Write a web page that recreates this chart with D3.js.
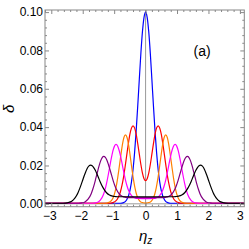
<!DOCTYPE html>
<html>
<head>
<meta charset="utf-8">
<script src="https://cdn.jsdelivr.net/npm/d3@7"></script>
<style>
  body { margin: 0; background: #fff; }
  svg { display: block; font-family: "Liberation Sans", Arial, sans-serif; }
</style>
</head>
<body>
<svg id="chart" width="249" height="249"></svg>
<script>
// tick values
const etaTicks = [-3, -2, -1, 0, 1, 2, 3];
const deltaTicks = [0, 0.02, 0.04, 0.06, 0.08, 0.10];

// curves, [eta_z, delta]
const blueCurve = [[-3.2,0.0003],[-0.8,0.0003],[-0.7,0.0006],[-0.6,0.0021],[-0.5,0.0068],[-0.45,0.0113],[-0.4,0.0178],[-0.35,0.0267],[-0.3,0.038],[-0.25,0.051],[-0.2,0.065],[-0.15,0.0785],[-0.1,0.0898],[-0.05,0.0973],[0,0.1],
  [0.05,0.0973],[0.1,0.0898],[0.15,0.0785],[0.2,0.065],[0.25,0.051],[0.3,0.038],[0.35,0.0267],[0.4,0.0178],[0.45,0.0113],[0.5,0.0068],[0.6,0.0021],[0.7,0.0006],[0.8,0.0003],[3.2,0.0003]];

const redCurve = [[-3.2,0.0003],[-1.2,0.0003],[-1.1,0.0004],[-1.0,0.0009],[-0.9,0.0024],[-0.8,0.0063],[-0.75,0.0097],[-0.7,0.0141],[-0.65,0.0195],[-0.6,0.0254],[-0.55,0.0312],[-0.5,0.0362],[-0.45,0.0395],[-0.4,0.0407],[-0.35,0.0396],[-0.3,0.0363],[-0.25,0.0314],[-0.2,0.0259],[-0.15,0.0205],[-0.1,0.016],[-0.05,0.0131],[0,0.0121],
  [0.05,0.0131],[0.1,0.016],[0.15,0.0205],[0.2,0.0259],[0.25,0.0314],[0.3,0.0363],[0.35,0.0396],[0.4,0.0407],[0.45,0.0395],[0.5,0.0362],[0.55,0.0312],[0.6,0.0254],[0.65,0.0195],[0.7,0.0141],[0.75,0.0097],[0.8,0.0063],[0.9,0.0024],[1.0,0.0009],[1.1,0.0004],[1.2,0.0003],[3.2,0.0003]];

const orangeCurve = [[-3.2,0.0003],[-1.4,0.0003],[-1.24,0.0004],[-1.14,0.0009],[-1.04,0.0029],[-0.99,0.0052],[-0.94,0.0086],[-0.89,0.0133],[-0.84,0.019],[-0.79,0.025],[-0.74,0.0306],[-0.69,0.0346],[-0.64,0.036],[-0.59,0.0346],[-0.54,0.0306],[-0.49,0.025],[-0.44,0.0188],[-0.39,0.0131],[-0.34,0.0084],[-0.29,0.005],[-0.24,0.0028],[-0.19,0.0015],[-0.14,0.0008],[0,0.0004],
  [0.14,0.0008],[0.19,0.0015],[0.24,0.0028],[0.29,0.005],[0.34,0.0084],[0.39,0.0131],[0.44,0.0188],[0.49,0.025],[0.54,0.0306],[0.59,0.0346],[0.64,0.036],[0.69,0.0346],[0.74,0.0306],[0.79,0.025],[0.84,0.019],[0.89,0.0133],[0.94,0.0086],[0.99,0.0052],[1.04,0.0029],[1.14,0.0009],[1.24,0.0004],[1.4,0.0003],[3.2,0.0003]];

const magentaCurve = [[-3.2,0.0003],[-1.8,0.0003],[-1.64,0.0004],[-1.54,0.0007],[-1.44,0.0019],[-1.34,0.0049],[-1.29,0.0074],[-1.24,0.0108],[-1.19,0.0149],[-1.14,0.0194],[-1.09,0.0238],[-1.04,0.0276],[-0.99,0.0301],[-0.94,0.031],[-0.89,0.0302],[-0.84,0.0278],[-0.79,0.0244],[-0.74,0.0203],[-0.69,0.0162],[-0.64,0.0124],[-0.59,0.0093],[-0.54,0.0069],[-0.44,0.0041],[-0.34,0.0031],[-0.24,0.0028],[0,0.0027],
  [0.24,0.0028],[0.34,0.0031],[0.44,0.0041],[0.54,0.0069],[0.59,0.0093],[0.64,0.0124],[0.69,0.0162],[0.74,0.0203],[0.79,0.0244],[0.84,0.0278],[0.89,0.0302],[0.94,0.031],[0.99,0.0301],[1.04,0.0276],[1.09,0.0238],[1.14,0.0194],[1.19,0.0149],[1.24,0.0108],[1.29,0.0074],[1.34,0.0049],[1.44,0.0019],[1.54,0.0007],[1.64,0.0004],[1.8,0.0003],[3.2,0.0003]];

const purpleCurve = [[-3.2,0.0003],[-2.13,0.0003],[-2.03,0.0005],[-1.93,0.001],[-1.83,0.0024],[-1.73,0.0053],[-1.68,0.0076],[-1.63,0.0103],[-1.58,0.0135],[-1.53,0.0167],[-1.48,0.0198],[-1.43,0.0224],[-1.38,0.0241],[-1.33,0.0247],[-1.28,0.0242],[-1.23,0.0227],[-1.18,0.0204],[-1.13,0.0177],[-1.08,0.0148],[-1.03,0.012],[-0.98,0.0096],[-0.93,0.0076],[-0.83,0.005],[-0.73,0.0038],[-0.63,0.0034],[-0.53,0.0032],[0,0.0032],
  [0.53,0.0032],[0.63,0.0034],[0.73,0.0038],[0.83,0.005],[0.93,0.0076],[0.98,0.0096],[1.03,0.012],[1.08,0.0148],[1.13,0.0177],[1.18,0.0204],[1.23,0.0227],[1.28,0.0242],[1.33,0.0247],[1.38,0.0241],[1.43,0.0224],[1.48,0.0198],[1.53,0.0167],[1.58,0.0135],[1.63,0.0103],[1.68,0.0076],[1.73,0.0053],[1.83,0.0024],[1.93,0.001],[2.03,0.0005],[2.13,0.0003],[3.2,0.0003]];

const blackCurve = [[-3.2,0.0003],[-2.7,0.0003],[-2.55,0.0004],[-2.45,0.0007],[-2.35,0.0014],[-2.25,0.003],[-2.2,0.0042],[-2.15,0.0058],[-2.1,0.0078],[-2.05,0.01],[-2.0,0.0124],[-1.95,0.0148],[-1.9,0.0169],[-1.85,0.0187],[-1.8,0.0198],[-1.75,0.0202],[-1.7,0.0199],[-1.65,0.0189],[-1.6,0.0175],[-1.55,0.0157],[-1.5,0.0137],[-1.45,0.0117],[-1.35,0.0083],[-1.25,0.0059],[-1.15,0.0046],[-1.05,0.004],[-0.95,0.0038],[-0.85,0.0037],[0,0.0037],
  [0.85,0.0037],[0.95,0.0038],[1.05,0.004],[1.15,0.0046],[1.25,0.0059],[1.35,0.0083],[1.45,0.0117],[1.5,0.0137],[1.55,0.0157],[1.6,0.0175],[1.65,0.0189],[1.7,0.0199],[1.75,0.0202],[1.8,0.0198],[1.85,0.0187],[1.9,0.0169],[1.95,0.0148],[2.0,0.0124],[2.05,0.01],[2.1,0.0078],[2.15,0.0058],[2.2,0.0042],[2.25,0.003],[2.35,0.0014],[2.45,0.0007],[2.55,0.0004],[2.7,0.0003],[3.2,0.0003]];

// drawn in this order, black ends up on top
const series = [
  { pts: blueCurve, color: "#0000ff" },
  { pts: redCurve, color: "#ff0000" },
  { pts: orangeCurve, color: "#ff8000" },
  { pts: magentaCurve, color: "#ff00ff" },
  { pts: purpleCurve, color: "#800080" },
  { pts: blackCurve, color: "#000000" },
];

const svg = d3.select("#chart");
const x = d3.scaleLinear().domain([-3.2, 3.14]).range([45, 244.3]);
const y = d3.scaleLinear().domain([-0.0015, 0.1011]).range([206.7, 10]);

const [x0, x1] = x.range();
const [y0, y1] = y.range();
const frameColor = "#888";

const isMajor = (v, step) => Math.abs(v / step - Math.round(v / step)) < 1e-6;
const etaMinor = d3.range(-3.2, 3.15, 0.2).filter(v => !isMajor(v, 1));
const deltaMinor = d3.range(0, 0.1005, 0.004).filter(v => !isMajor(v, 0.02));

svg.append("clipPath").attr("id", "clip")
  .append("rect").attr("x", x0).attr("y", y1).attr("width", x1 - x0).attr("height", y0 - y1);

// axes at zero
svg.append("line")
  .attr("x1", x(0)).attr("x2", x(0)).attr("y1", y0).attr("y2", y1)
  .attr("stroke", "#999").attr("stroke-width", 1);
svg.append("line")
  .attr("x1", x0).attr("x2", x1).attr("y1", y(0)).attr("y2", y(0))
  .attr("stroke", "#999").attr("stroke-width", 1);

// curves
const line = d3.line()
  .x(d => x(d[0]))
  .y(d => y(d[1]))
  .curve(d3.curveMonotoneX);

svg.append("g").attr("clip-path", "url(#clip)")
  .selectAll("path")
  .data(series)
  .enter()
  .append("path")
  .attr("d", d => line(d.pts))
  .attr("fill", "none")
  .attr("stroke", d => d.color)
  .attr("stroke-width", 1.2);

// frame
svg.append("rect")
  .attr("x", x0).attr("y", y1).attr("width", x1 - x0).attr("height", y0 - y1)
  .attr("fill", "none").attr("stroke", frameColor).attr("stroke-width", 1);

function styleAxis(g) {
  g.select(".domain").remove();
  g.selectAll(".tick line").attr("stroke", frameColor);
  g.selectAll(".tick text").attr("fill", "#000").attr("font-size", 12)
    .attr("font-family", '"Liberation Sans", Arial, sans-serif');
}

const fmtEta = d => (d < 0 ? "\u2212" + Math.abs(d) : String(d));

// bottom
svg.append("g").attr("transform", `translate(0,${y0})`)
  .call(d3.axisBottom(x).tickValues(etaTicks).tickSize(-4).tickPadding(5).tickFormat(fmtEta))
  .call(styleAxis)
  .call(g => g.selectAll(".tick text").attr("dx", d => (d < 0 ? -2 : 0)));
svg.append("g").attr("transform", `translate(0,${y0})`)
  .call(d3.axisBottom(x).tickValues(etaMinor).tickSize(-2).tickFormat(""))
  .call(styleAxis);
// top
svg.append("g").attr("transform", `translate(0,${y1})`)
  .call(d3.axisTop(x).tickValues(etaTicks).tickSize(-4).tickFormat(""))
  .call(styleAxis);
svg.append("g").attr("transform", `translate(0,${y1})`)
  .call(d3.axisTop(x).tickValues(etaMinor).tickSize(-2).tickFormat(""))
  .call(styleAxis);
// left
svg.append("g").attr("transform", `translate(${x0},0)`)
  .call(d3.axisLeft(y).tickValues(deltaTicks).tickSize(-4).tickPadding(2).tickFormat(d3.format(".2f")))
  .call(styleAxis);
svg.append("g").attr("transform", `translate(${x0},0)`)
  .call(d3.axisLeft(y).tickValues(deltaMinor).tickSize(-2).tickFormat(""))
  .call(styleAxis);
// right
svg.append("g").attr("transform", `translate(${x1},0)`)
  .call(d3.axisRight(y).tickValues(deltaTicks).tickSize(-4).tickFormat(""))
  .call(styleAxis);
svg.append("g").attr("transform", `translate(${x1},0)`)
  .call(d3.axisRight(y).tickValues(deltaMinor).tickSize(-2).tickFormat(""))
  .call(styleAxis);

// axis labels
svg.append("text")
  .attr("transform", `translate(8,${(y0 + y1) / 2 + 0.5}) rotate(-90)`)
  .attr("text-anchor", "middle")
  .attr("dominant-baseline", "central")
  .attr("font-size", 15)
  .attr("font-style", "italic")
  .text("δ");

const xl = svg.append("text")
  .attr("x", x(0))
  .attr("y", 241)
  .attr("text-anchor", "middle")
  .attr("font-size", 15)
  .attr("font-style", "italic");
xl.append("tspan").text("η");
xl.append("tspan").attr("font-size", 10).attr("dy", 3).text("z");

svg.append("text")
  .attr("x", x(1.8))
  .attr("y", y(0.077))
  .attr("text-anchor", "middle")
  .attr("font-size", 14)
  .text("(a)");
</script>
</body>
</html>
